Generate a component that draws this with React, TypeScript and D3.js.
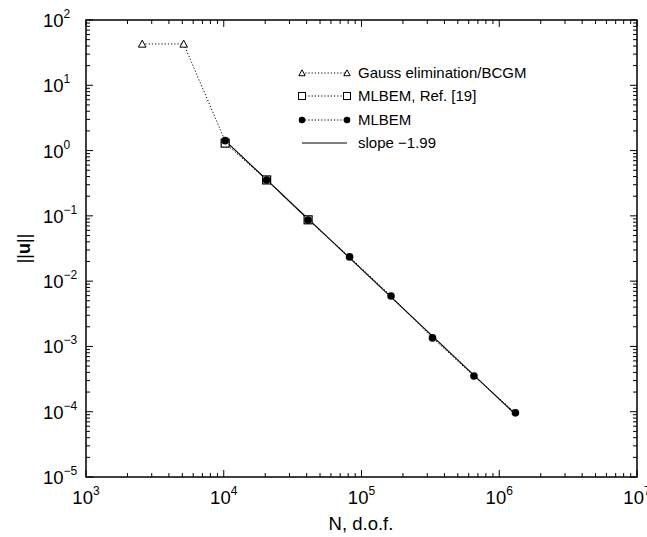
import React from "react";
import * as d3 from "d3";

const gaussN = [2560, 5120, 10240];
const gaussU = [43, 43, 1.4];
const refN = [10240, 20480, 40960];
const refU = [1.3, 0.355, 0.087];
const mlbemN = [10240, 20480, 40960, 81920, 163840, 327680, 655360, 1310720];
const mlbemU = [1.42, 0.355, 0.0865, 0.0235, 0.00593, 0.00135, 0.000353, 0.000096];
const slopeN = [10240, 1310720];
const slopeExp = -1.99;
const slopeC = 1.42;
const xTickExps = [3, 4, 5, 6, 7];
const yTickExps = [2, 1, 0, -1, -2, -3, -4, -5];
const legendLabels = ["Gauss elimination/BCGM", "MLBEM, Ref. [19]", "MLBEM", "slope \u22121.99"];

const W = 647, H = 537;
const M = { left: 86, right: 637, top: 20, bottom: 477 };
const FONT = "'Liberation Sans', Arial, Helvetica, sans-serif";

export default function App() {
  const x = d3.scaleLog().domain([1e3, 1e7]).range([M.left, M.right]);
  const y = d3.scaleLog().domain([1e-5, 1e2]).range([M.bottom, M.top]);
  const line = d3.line<[number, number]>().x(d => x(d[0])).y(d => y(d[1]));
  const xt = x.ticks();
  const yt = y.ticks();
  const isMajor = (v: number) => Math.abs(Math.log10(v) - Math.round(Math.log10(v))) < 1e-9;
  const sup = (e: number) => (e < 0 ? "\u2212" + Math.abs(e) : String(e));
  const dotted = "1.2,2";
  const slopePts: [number, number][] = slopeN.map(n => [n, slopeC * Math.pow(n / slopeN[0], slopeExp)]);
  const tri = (cx: number, cy: number, s = 3.8) =>
    `M${cx},${cy - s}L${cx + s},${cy + s * 0.85}L${cx - s},${cy + s * 0.85}Z`;

  const legX0 = 302, legX1 = 347, legTx = 358;
  const legY = [73, 96, 120, 143];

  return (
    <svg width={W} height={H} style={{ position: "absolute", left: 0, top: 0, background: "#fff" }} fontFamily={FONT}>
      <rect x={0} y={0} width={W} height={H} fill="#fff" />
      {/* ticks */}
      {xt.map((v, i) => {
        const L = isMajor(v) ? 7 : 4;
        const px = x(v);
        return (
          <g key={"xt" + i} stroke="#000" strokeWidth={1}>
            <line x1={px} x2={px} y1={M.bottom} y2={M.bottom - L} />
            <line x1={px} x2={px} y1={M.top} y2={M.top + L} />
          </g>
        );
      })}
      {yt.map((v, i) => {
        const L = isMajor(v) ? 7 : 4;
        const py = y(v);
        return (
          <g key={"yt" + i} stroke="#000" strokeWidth={1}>
            <line x1={M.left} x2={M.left + L} y1={py} y2={py} />
            <line x1={M.right} x2={M.right - L} y1={py} y2={py} />
          </g>
        );
      })}
      <rect x={M.left} y={M.top} width={M.right - M.left} height={M.bottom - M.top} fill="none" stroke="#000" strokeWidth={1.5} />
      {/* tick labels */}
      {xTickExps.map(e => (
        <text key={"xl" + e} x={x(Math.pow(10, e))} y={504} textAnchor="middle" fontSize={18.5} fill="#000">
          <tspan>10</tspan>
          <tspan dy={-9} fontSize={12}>{sup(e)}</tspan>
        </text>
      ))}
      {yTickExps.map(e => (
        <text key={"yl" + e} x={43} y={y(Math.pow(10, e)) + 7} textAnchor="start" fontSize={18.5} fill="#000">
          <tspan>10</tspan>
          <tspan dy={-9} fontSize={12}>{sup(e)}</tspan>
        </text>
      ))}
      {/* axis titles */}
      <text x={361} y={530} textAnchor="middle" fontSize={18.5} fill="#000">N, d.o.f.</text>
      <text transform={`translate(30,${(M.top + M.bottom) / 2}) rotate(-90)`} textAnchor="middle" fontSize={18} fill="#000">
        <tspan>||</tspan><tspan fontWeight="bold">u</tspan><tspan>||</tspan>
      </text>
      {/* series lines */}
      <path d={line(gaussN.map((n, i) => [n, gaussU[i]]) as any) || ""} fill="none" stroke="#000" strokeWidth={1} strokeDasharray={dotted} />
      <path d={line(refN.map((n, i) => [n, refU[i]]) as any) || ""} fill="none" stroke="#000" strokeWidth={1} strokeDasharray={dotted} />
      <path d={line(mlbemN.map((n, i) => [n, mlbemU[i]]) as any) || ""} fill="none" stroke="#000" strokeWidth={1} strokeDasharray={dotted} />
      <path d={line(slopePts) || ""} fill="none" stroke="#000" strokeWidth={1.1} />
      {/* markers */}
      {gaussN.map((n, i) => (
        <path key={"g" + i} d={tri(x(n), y(gaussU[i]))} fill="#fff" stroke="#000" strokeWidth={1} />
      ))}
      {refN.map((n, i) => (
        <rect key={"r" + i} x={x(n) - 4} y={y(refU[i]) - 4} width={8} height={8} fill="#fff" stroke="#000" strokeWidth={1.2} />
      ))}
      {mlbemN.map((n, i) => (
        <circle key={"m" + i} cx={x(n)} cy={y(mlbemU[i])} r={3.8} fill="#000" />
      ))}
      {/* legend */}
      <g fontSize={15} fill="#000">
        {legendLabels.map((lab, i) => (
          <g key={"lg" + i}>
            <line x1={legX0} x2={legX1} y1={legY[i]} y2={legY[i]} stroke="#000" strokeWidth={1}
              strokeDasharray={i < 3 ? dotted : undefined} />
            {i === 0 && <>
              <path d={tri(legX0, legY[i], 3.2)} fill="#fff" stroke="#000" />
              <path d={tri(legX1, legY[i], 3.2)} fill="#fff" stroke="#000" />
            </>}
            {i === 1 && <>
              <rect x={legX0 - 3.5} y={legY[i] - 3.5} width={7} height={7} fill="#fff" stroke="#000" />
              <rect x={legX1 - 3.5} y={legY[i] - 3.5} width={7} height={7} fill="#fff" stroke="#000" />
            </>}
            {i === 2 && <>
              <circle cx={legX0} cy={legY[i]} r={3.3} fill="#000" />
              <circle cx={legX1} cy={legY[i]} r={3.3} fill="#000" />
            </>}
            <text x={legTx} y={legY[i] + 5} fill="#000">{lab}</text>
          </g>
        ))}
      </g>
    </svg>
  );
}
